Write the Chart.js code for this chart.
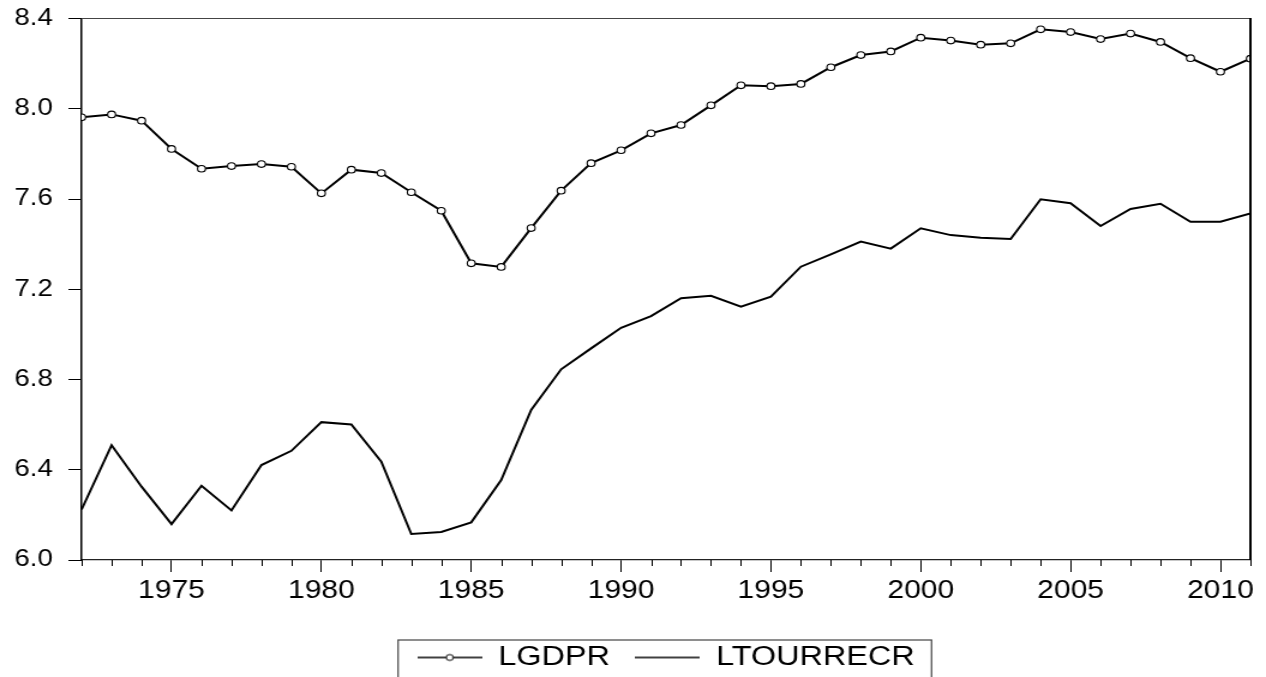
<!DOCTYPE html>
<html>
<head>
<title>LGDPR, LTOURRECR</title>
<style>
  html, body { margin: 0; padding: 0; background: #fff; overflow: hidden; }
  /* the original graph is stretched sideways, so draw narrower and widen it */
  .chart-container {
    width: 1055px;
    height: 677px;
    transform: scaleX(1.2);
    transform-origin: 0 0;
  }
</style>
</head>
<body>
<div class="chart-container">
<canvas id="mycanvas" width="1055" height="677"></canvas>
</div>

<script src="https://cdn.jsdelivr.net/npm/chart.js@4.4.1/dist/chart.umd.min.js"></script>
<script>
var years = [1972,1973,1974,1975,1976,1977,1978,1979,1980,1981,1982,1983,1984,1985,1986,1987,1988,1989,1990,1991,
             1992,1993,1994,1995,1996,1997,1998,1999,2000,2001,2002,2003,2004,2005,2006,2007,2008,2009,2010,2011];

var lgdpr = [7.962,7.975,7.947,7.822,7.734,7.746,7.755,7.743,7.625,7.730,7.715,7.630,
             7.548,7.315,7.299,7.471,7.637,7.759,7.816,7.891,7.928,8.015,8.104,8.100,8.110,
             8.184,8.238,8.254,8.315,8.302,8.284,8.290,8.352,8.340,8.309,8.333,8.296,8.224,8.164,8.222];

var ltourrecr = [6.224,6.509,6.325,6.159,6.329,6.220,6.421,6.484,6.611,6.601,6.436,6.115,
                 6.124,6.167,6.354,6.665,6.845,6.938,7.029,7.081,7.160,7.171,7.123,7.167,7.300,
                 7.355,7.411,7.380,7.470,7.440,7.428,7.423,7.599,7.581,7.480,7.556,7.579,7.499,7.499,7.536];

var yMin = 6.0, yMax = 8.4, yStep = 0.4;
var font = "'Liberation Sans', Arial, sans-serif";

// legend symbols: line with a small circle, and a plain line
function legendSymbol(withCircle) {
  var c = document.createElement('canvas');
  c.width = 54; c.height = 12;
  var g = c.getContext('2d');
  g.strokeStyle = '#000';
  g.lineWidth = 1.6;
  g.beginPath(); g.moveTo(0, 6); g.lineTo(54, 6); g.stroke();
  if (withCircle) {
    g.fillStyle = '#fff';
    g.lineWidth = 1;
    g.beginPath(); g.arc(27, 6, 3, 0, Math.PI * 2); g.fill(); g.stroke();
  }
  return c;
}
var symGdp = legendSymbol(true);
var symTour = legendSymbol(false);

// frame, minor year ticks and the legend box
var framePlugin = {
  id: 'frame',
  afterDraw: function(chart) {
    var a = chart.chartArea, ctx = chart.ctx;
    ctx.save();
    ctx.strokeStyle = '#444';
    ctx.lineWidth = 1.2;
    ctx.beginPath(); ctx.moveTo(a.left, a.top); ctx.lineTo(a.right, a.top); ctx.stroke();
    ctx.strokeStyle = '#000';
    ctx.lineWidth = 2;
    ctx.beginPath(); ctx.moveTo(a.right, a.top - 0.6); ctx.lineTo(a.right, a.bottom); ctx.stroke();

    var xs = chart.scales.x;
    ctx.lineWidth = 1;
    for (var i = 0; i < xs.ticks.length; i++) {
      if (years[i] % 5 === 0) continue;
      var px = Math.round(xs.getPixelForTick(i)) + 0.5;
      ctx.beginPath(); ctx.moveTo(px, a.bottom); ctx.lineTo(px, a.bottom + 6); ctx.stroke();
    }

    var boxes = chart.legend.legendHitBoxes;
    if (boxes && boxes.length) {
      var first = boxes[0], last = boxes[boxes.length - 1];
      var left = first.left - 16, right = last.left + last.width + 14;
      var top = first.top - 4;
      ctx.strokeStyle = '#444';
      ctx.lineWidth = 1.2;
      ctx.strokeRect(left, top, right - left, chart.height - top + 8);
    }
    ctx.restore();
  }
};

var ctx = document.getElementById('mycanvas');

var LineGraph = new Chart(ctx, {
  type: 'line',
  data: {
    labels: years,
    datasets: [
      {
        label: 'LGDPR',
        data: lgdpr,
        borderColor: '#000',
        borderWidth: 2,
        backgroundColor: '#fff',
        pointRadius: 3.3,
        pointBorderWidth: 1.1,
        pointBackgroundColor: '#fff',
        pointBorderColor: '#000',
        fill: false,
        tension: 0,
        clip: 0
      },
      {
        label: 'LTOURRECR',
        data: ltourrecr,
        borderColor: '#000',
        borderWidth: 2,
        pointRadius: 0,
        fill: false,
        tension: 0,
        clip: 0
      }
    ]
  },
  options: {
    responsive: false,
    animation: false,
    devicePixelRatio: 1,
    layout: { padding: { left: 0, right: 13, top: 18.5, bottom: -4 } },
    plugins: {
      tooltip: { enabled: false },
      legend: {
        position: 'bottom',
        fullSize: false,
        labels: {
          usePointStyle: true,
          pointStyleWidth: 54,
          padding: 21,
          color: '#000',
          font: { family: font, size: 27 },
          generateLabels: function(chart) {
            return chart.data.datasets.map(function(ds, i) {
              return {
                text: ds.label,
                pointStyle: i === 0 ? symGdp : symTour,
                fillStyle: '#000',
                strokeStyle: '#000',
                lineWidth: 0,
                hidden: false,
                datasetIndex: i
              };
            });
          }
        }
      }
    },
    scales: {
      x: {
        type: 'category',
        offset: false,
        afterFit: function(scale) { scale.height = scale.height + 13; },
        grid: {
          display: true,
          drawOnChartArea: false,
          tickLength: 12,
          tickWidth: 1,
          tickColor: function(c) {
            return (c.tick && years[c.index] % 5 === 0) ? '#000' : 'rgba(0,0,0,0)';
          }
        },
        border: { display: true, color: '#222', width: 1.2 },
        ticks: {
          autoSkip: false,
          maxRotation: 0,
          padding: 4,
          color: '#000',
          font: { family: font, size: 25 },
          callback: function(v, i) {
            return years[i] % 5 === 0 ? String(years[i]) : '';
          }
        }
      },
      y: {
        min: yMin,
        max: yMax,
        afterFit: function(scale) {
          scale.width = 68;
          scale.paddingTop = 0;
          scale.paddingBottom = 0;
        },
        grid: {
          display: true,
          drawOnChartArea: false,
          tickLength: 11,
          tickColor: '#000',
          tickWidth: 1
        },
        border: { display: true, color: '#000', width: 1.5 },
        ticks: {
          stepSize: yStep,
          padding: 13,
          color: '#000',
          font: { family: font, size: 23 },
          callback: function(v) { return v.toFixed(1); }
        }
      }
    }
  },
  plugins: [framePlugin]
});
</script>
</body>
</html>
